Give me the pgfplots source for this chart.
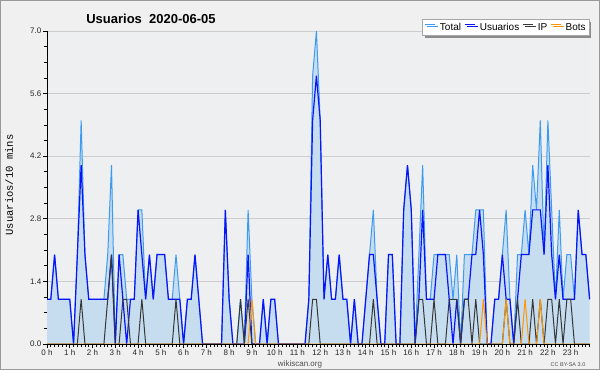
\documentclass[border=0pt]{standalone}
\usepackage{fontspec}
\setmainfont{Liberation Sans}
\newfontfamily\monofont{Liberation Mono}
\usepackage{pgfplots}
\usepackage{pgfplotstable}
\pgfplotsset{compat=1.18}
\usetikzlibrary{shadows}
\definecolor{bgout}{RGB}{240,240,240}
\definecolor{bgplot}{RGB}{238,239,241}
\definecolor{totline}{RGB}{60,155,240}
\definecolor{totfill}{RGB}{198,221,240}
\definecolor{usr}{RGB}{10,20,250}
\definecolor{ipc}{RGB}{55,55,55}
\definecolor{bots}{RGB}{255,150,0}
\definecolor{gridc}{RGB}{205,205,205}
\pgfplotstableread{
i T U IP B
0 1 1 0 0
1 1 1 0 0
2 2 2 0 0
3 1 1 0 0
4 1 1 0 0
5 1 1 0 0
6 1 1 0 0
7 0 0 0 0
8 2 2 0 0
9 5 4 1 0
10 2 2 0 0
11 1 1 0 0
12 1 1 0 0
13 1 1 0 0
14 1 1 0 0
15 1 1 0 0
16 2 1 1 0
17 4 2 2 0
18 0 0 0 0
19 2 2 0 0
20 2 1 1 0
21 1 0 1 0
22 1 1 0 0
23 1 1 0 0
24 3 3 0 0
25 3 2 1 0
26 1 1 0 0
27 2 2 0 0
28 1 1 0 0
29 2 2 0 0
30 2 2 0 0
31 2 2 0 0
32 1 1 0 0
33 1 1 0 0
34 2 1 1 0
35 1 1 0 0
36 0 0 0 0
37 1 1 0 0
38 1 1 0 0
39 2 2 0 0
40 1 1 0 0
41 0 0 0 0
42 0 0 0 0
43 0 0 0 0
44 0 0 0 0
45 0 0 0 0
46 0 0 0 0
47 3 3 0 0
48 1 1 0 0
49 0 0 0 0
50 0 0 0 0
51 1 0 1 0
52 0 0 0 0
53 3 2 1 0
54 1 0 0 1
55 0 0 0 0
56 0 0 0 0
57 1 1 0 0
58 0 0 0 0
59 1 1 0 0
60 1 1 0 0
61 0 0 0 0
62 0 0 0 0
63 0 0 0 0
64 0 0 0 0
65 0 0 0 0
66 0 0 0 0
67 0 0 0 0
68 0 0 0 0
69 1 1 0 0
70 6 5 1 0
71 7 6 1 0
72 5 5 0 0
73 1 1 0 0
74 2 2 0 0
75 1 1 0 0
76 1 1 0 0
77 2 2 0 0
78 1 1 0 0
79 1 1 0 0
80 0 0 0 0
81 1 1 0 0
82 0 0 0 0
83 0 0 0 0
84 1 1 0 0
85 2 2 0 0
86 3 2 1 0
87 1 1 0 0
88 0 0 0 0
89 0 0 0 0
90 2 2 0 0
91 2 2 0 0
92 0 0 0 0
93 0 0 0 0
94 3 3 0 0
95 4 4 0 0
96 3 3 0 0
97 0 0 0 0
98 2 1 1 0
99 4 3 1 0
100 1 1 0 0
101 1 1 0 0
102 2 1 1 0
103 2 2 0 0
104 2 2 0 0
105 2 2 0 0
106 2 1 1 0
107 1 0 1 0
108 2 1 1 0
109 0 0 0 0
110 2 1 1 0
111 2 1 1 0
112 2 2 0 0
113 3 2 1 0
114 3 3 0 0
115 3 2 0 1
116 0 0 0 0
117 0 0 0 0
118 1 1 0 0
119 1 1 0 0
120 2 2 0 0
121 3 1 1 1
122 1 1 0 0
123 0 0 0 0
124 2 1 1 0
125 2 2 0 0
126 3 2 0 1
127 2 2 0 0
128 4 3 1 0
129 3 3 0 0
130 5 3 1 1
131 2 2 0 0
132 5 4 1 0
133 3 2 1 0
134 1 1 0 0
135 3 2 1 0
136 1 1 0 0
137 2 1 1 0
138 2 1 1 0
139 1 1 0 0
140 3 3 0 0
141 2 2 0 0
142 2 2 0 0
143 1 1 0 0
}\data
\begin{document}
\begin{tikzpicture}
\fill[bgout] (0pt,0pt) rectangle (600pt,370pt);
\draw[black!40, line width=1pt] (0.5pt,0.5pt) rectangle (599.5pt,369.5pt);
\begin{axis}[
  at={(47pt,26pt)}, anchor=south west,
  scale only axis, width=543pt, height=313pt,
  xmin=0, xmax=143.1, ymin=0, ymax=7,
  clip=false,
  axis x line*=bottom, axis y line*=left,
  axis line style={black, line width=1pt},
  axis background/.style={fill=bgplot},
  no markers,
  xtick={0,6,...,138},
  xticklabels={0 h,1 h,2 h,3 h,4 h,5 h,6 h,7 h,8 h,9 h,10 h,11 h,12 h,13 h,14 h,15 h,16 h,17 h,18 h,19 h,20 h,21 h,22 h,23 h},
  minor xtick={0,1,...,143},
  ytick={0,1.4,2.8,4.2,5.6,7},
  yticklabels={0.0,1.4,2.8,4.2,5.6,7.0},
  minor y tick num=3,
  ymajorgrids,
  grid style={gridc, line width=1pt},
  tick align=outside,
  major tick length=4pt, minor tick length=3pt,
  tick style={black, line width=0.8pt},
  ticklabel style={font=\fontsize{8}{9}\selectfont, text=black!85},
  xticklabel style={inner sep=1pt, yshift=-0.5pt},
  yticklabel style={inner sep=1.5pt},
  /pgf/number format/assume math mode=true,
  legend columns=4,
  legend style={at={(0.998,1.037)}, anchor=north east, draw=black!35, fill=white,
    font=\fontsize{10}{11}\selectfont, inner xsep=2pt, inner ysep=1.5pt, row sep=0pt,
    drop shadow={shadow xshift=2.5pt, shadow yshift=-2.5pt, fill=black!45, opacity=1},
    nodes={inner xsep=1pt},
    /tikz/every even column/.append style={column sep=2pt}},
  legend image code/.code={\draw[#1] (0pt,3.2pt) -- (10.5pt,3.2pt); \path (13.5pt,3.2pt);},
]
\addplot[draw=none, fill=totfill, forget plot] table[x=i,y=T]{\data} \closedcycle;
\addplot[totline, line width=1pt] table[x=i,y=T]{\data};
\addlegendentry{Total}
\addplot[usr, line width=1.2pt] table[x=i,y=U]{\data};
\addlegendentry{Usuarios}
\addplot[ipc, line width=1pt] table[x=i,y=IP]{\data};
\addlegendentry{IP}
\addplot[bots, line width=1pt] table[x=i,y=B]{\data};
\addlegendentry{Bots}
\draw[black, line width=1pt] (axis cs:0,0) -- (axis cs:143.1,0);
\end{axis}
\node[anchor=base, font=\bfseries\fontsize{13}{15}\selectfont] at (151pt,346pt) {Usuarios\ \ 2020-06-05};
\node[rotate=90, font=\monofont\fontsize{10.5}{12}\selectfont] at (9pt,185pt) {Usuarios/10 mins};
\node[anchor=base, font=\fontsize{8}{9}\selectfont, text=black!70] at (300pt,4pt) {wikiscan.org};
\node[anchor=base, font=\fontsize{5.5}{6}\selectfont, text=black!70] at (568pt,4pt) {CC BY-SA 3.0};
\end{tikzpicture}
\end{document}
